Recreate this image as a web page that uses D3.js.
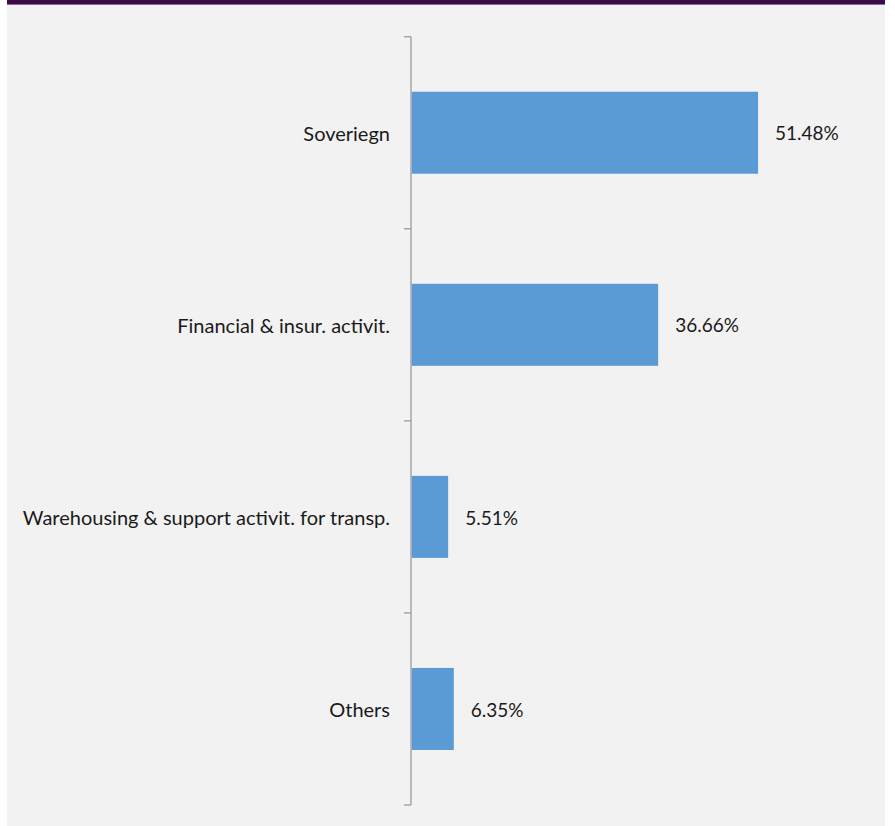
<!DOCTYPE html>
<html>
<head>
<meta charset="utf-8">
<script src="https://cdn.jsdelivr.net/npm/d3@7"></script>
<style>
  html, body { margin: 0; padding: 0; background: #ffffff; }
  svg { display: block; }
</style>
</head>
<body>
<svg id="chart" width="895" height="826"></svg>
<script>
// Exposure by sector, share of total (%)
const categories = [
  "Soveriegn",
  "Financial & insur. activit.",
  "Warehousing & support activit. for transp.",
  "Others"
];
const shares = [51.48, 36.66, 5.51, 6.35];
const valueLabels = ["51.48%", "36.66%", "5.51%", "6.35%"];

const data = categories.map((c, i) => ({ category: c, value: shares[i], label: valueLabels[i] }));

const W = 895, H = 826;
const svg = d3.select("#chart");

// page background panel and header strip
svg.append("rect").attr("x", 7).attr("y", 0).attr("width", 878).attr("height", H).attr("fill", "#f2f2f2");
svg.append("rect").attr("x", 7).attr("y", 0).attr("width", 878).attr("height", 4).attr("fill", "#3b0a48");
svg.append("rect").attr("x", 7).attr("y", 4).attr("width", 878).attr("height", 1).attr("fill", "#8a6a92");

const axisX = 411;
const plotTop = 36.7, plotBottom = 805;

const x = d3.scaleLinear().domain([0, 60]).range([axisX, axisX + 404.5]);
const y = d3.scaleBand().domain(categories).range([plotTop, plotBottom]).paddingInner(0.573).paddingOuter(0.2865);

// category axis with ticks between bands
const band = (plotBottom - plotTop) / categories.length;
const g = svg.append("g");
g.append("line")
  .attr("x1", axisX).attr("x2", axisX)
  .attr("y1", plotTop).attr("y2", plotBottom)
  .attr("stroke", "#a6a6a6").attr("stroke-width", 1.5);
const tickYs = d3.range(categories.length + 1).map(i => plotTop + i * band);
g.selectAll("line.tick").data(tickYs).join("line")
  .attr("class", "tick")
  .attr("x1", axisX - 7).attr("x2", axisX)
  .attr("y1", d => d).attr("y2", d => d)
  .attr("stroke", "#a6a6a6").attr("stroke-width", 1.5);

// bars
svg.selectAll("rect.bar").data(data).join("rect")
  .attr("class", "bar")
  .attr("x", x(0) + 0.75)
  .attr("y", d => y(d.category))
  .attr("width", d => x(d.value) - x(0) - 0.75)
  .attr("height", y.bandwidth())
  .attr("fill", "#5b9bd5");

const font = "Lato, 'Source Sans Pro', 'Open Sans', sans-serif";

// category labels
svg.selectAll("text.cat").data(data).join("text")
  .attr("class", "cat")
  .attr("x", axisX - 21)
  .attr("y", d => y(d.category) + y.bandwidth() / 2 + 1)
  .attr("dy", "0.35em")
  .attr("text-anchor", "end")
  .attr("font-family", font)
  .attr("font-size", 20)
  .attr("fill", "#1a1a1a")
  .text(d => d.category);

// value labels
svg.selectAll("text.val").data(data).join("text")
  .attr("class", "val")
  .attr("x", d => x(d.value) + 17)
  .attr("y", d => y(d.category) + y.bandwidth() / 2 + 1)
  .attr("dy", "0.35em")
  .attr("font-family", font)
  .attr("font-size", 19)
  .attr("fill", "#1a1a1a")
  .text(d => d.label);
</script>
</body>
</html>
